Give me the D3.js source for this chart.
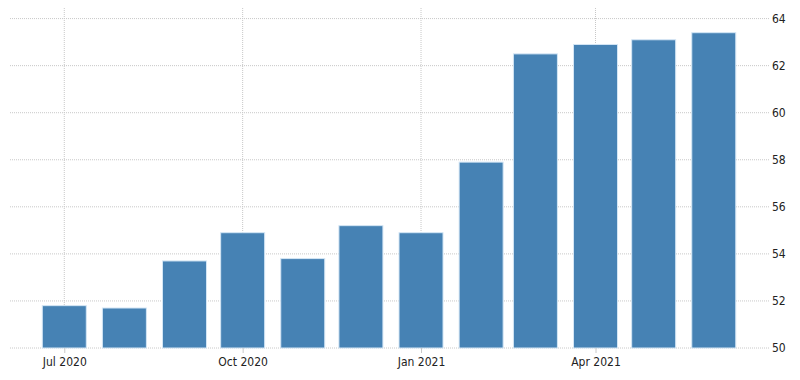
<!DOCTYPE html>
<html>
<head>
<meta charset="utf-8">
<script src="https://cdn.jsdelivr.net/npm/d3@7"></script>
<style>
  body { margin: 0; background: #fff; }
  text { font-family: "DejaVu Sans Condensed", "DejaVu Sans", Tahoma, sans-serif; font-size: 12px; }
</style>
</head>
<body>
<div class="bar-chart"></div>
<script>
// monthly values, Jul 2020 .. Jun 2021
var months = ["2020-07", "2020-08", "2020-09", "2020-10", "2020-11", "2020-12",
              "2021-01", "2021-02", "2021-03", "2021-04", "2021-05", "2021-06"];
var values = [51.8, 51.7, 53.7, 54.9, 53.8, 55.2, 54.9, 57.9, 62.5, 62.9, 63.1, 63.4];
var yTicks = [50, 52, 54, 56, 58, 60, 62, 64];
var xTicks = ["2020-07", "2020-10", "2021-01", "2021-04"];

var parseMonth = d3.timeParse("%Y-%m");

var margin = { top : 8, right : 30, bottom : 32, left : 10 },
	width = 800 - margin.left - margin.right,
	height = 380 - margin.top - margin.bottom;

var x = d3.scaleTime()
	.domain([new Date(2020, 5, 3), new Date(2021, 5, 30)])
	.range([0, width]);

var y = d3.scaleLinear()
	.domain([50, 64.45])
	.range([height, 0]);

var svg = d3.select(".bar-chart").append("svg")
	.attr("width", 800)
	.attr("height", 380)
	.append("g")
	.attr("transform", "translate(" + margin.left + "," + margin.top + ")");

// horizontal grid
svg.selectAll(".hgrid")
	.data(yTicks)
	.enter().append("line")
	.attr("x1", 0).attr("x2", width)
	.attr("y1", function (d) { return y(d); })
	.attr("y2", function (d) { return y(d); })
	.attr("stroke", "#c8c8c8")
	.attr("stroke-dasharray", "1,1");

// vertical grid
svg.selectAll(".vgrid")
	.data(xTicks)
	.enter().append("line")
	.attr("x1", function (d) { return x(parseMonth(d)); })
	.attr("x2", function (d) { return x(parseMonth(d)); })
	.attr("y1", 0).attr("y2", height)
	.attr("stroke", "#c8c8c8")
	.attr("stroke-dasharray", "1,1");

var barWidth = 44;

svg.selectAll(".bar")
	.data(values)
	.enter().append("rect")
	.attr("class", "bar")
	.attr("x", function (d, i) { return x(parseMonth(months[i])) - barWidth / 2; })
	.attr("width", barWidth)
	.attr("y", function (d) { return y(d); })
	.attr("height", function (d) { return height - y(d); })
	.attr("fill", "#4682b4")
	.attr("stroke", "#d4e6f5")
	.attr("stroke-width", 1);

// x axis
var xAxis = d3.axisBottom(x)
	.tickValues(xTicks.map(parseMonth))
	.tickFormat(d3.timeFormat("%b %Y"))
	.tickSize(5)
	.tickPadding(4);

var gx = svg.append("g")
	.attr("transform", "translate(0," + height + ")")
	.call(xAxis);
gx.select(".domain").remove();
gx.selectAll(".tick line").attr("stroke", "#c8c8c8");

// y axis on the right
var yAxis = d3.axisRight(y)
	.tickValues(yTicks)
	.tickSize(0)
	.tickPadding(2);

var gy = svg.append("g")
	.attr("transform", "translate(" + width + ",0)")
	.call(yAxis);
gy.select(".domain").remove();
svg.selectAll(".tick text").attr("fill", "#222").style("font-size", "12px");
</script>
</body>
</html>
